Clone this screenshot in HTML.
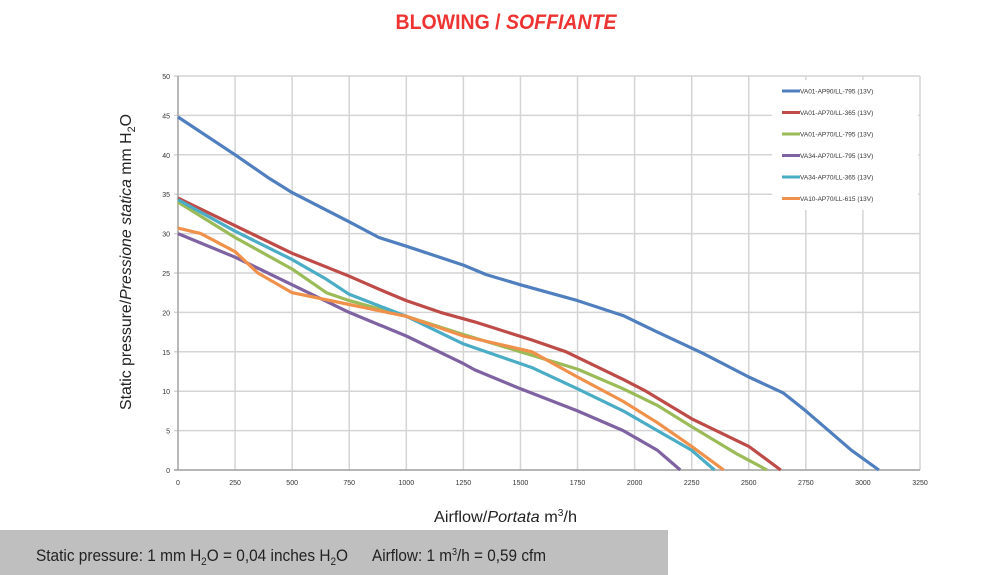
<!DOCTYPE html>
<html><head><meta charset="utf-8"><style>
html,body{margin:0;padding:0;background:#fff;width:1000px;height:575px;overflow:hidden}
svg{display:block}
text{font-family:"Liberation Sans",sans-serif}
</style></head><body>
<svg id="chart" width="1000" height="575" viewBox="0 0 1000 575" xmlns="http://www.w3.org/2000/svg">
<text x="506" y="29" text-anchor="middle" font-size="21" font-weight="bold" fill="#ee3333" textLength="221" lengthAdjust="spacingAndGlyphs">BLOWING / <tspan font-style="italic">SOFFIANTE</tspan></text>
<g id="grid"></g>
<g id="axes"></g>
<g id="series"></g>
<g id="legend"></g>
<text transform="translate(131,262) rotate(-90)" text-anchor="middle" font-size="16" fill="#222" textLength="296" lengthAdjust="spacingAndGlyphs">Static pressure/<tspan font-style="italic">Pressione statica</tspan> mm H<tspan font-size="11" dy="4">2</tspan><tspan dy="-4">O</tspan></text>
<text x="434" y="522" font-size="16" fill="#222" textLength="143" lengthAdjust="spacingAndGlyphs">Airflow/<tspan font-style="italic">Portata</tspan> m<tspan font-size="10" dy="-6">3</tspan><tspan dy="6">/h</tspan></text>
<rect x="0" y="530" width="668" height="45" fill="#bfbfbf"/>
<text x="36" y="561" font-size="17" fill="#222" textLength="312" lengthAdjust="spacingAndGlyphs">Static pressure: 1 mm H<tspan font-size="11" dy="4">2</tspan><tspan dy="-4">O = 0,04 inches H</tspan><tspan font-size="11" dy="4">2</tspan><tspan dy="-4">O</tspan></text>
<text x="372" y="561" font-size="17" fill="#222" textLength="174" lengthAdjust="spacingAndGlyphs">Airflow: 1 m<tspan font-size="10" dy="-6">3</tspan><tspan dy="6">/h = 0,59 cfm</tspan></text>
</svg>
<script>
const xTicks=[0,250,500,750,1000,1250,1500,1750,2000,2250,2500,2750,3000,3250];
const yTicks=[0,5,10,15,20,25,30,35,40,45,50];
const seriesNames=["VA01-AP90/LL-795 (13V)","VA01-AP70/LL-365 (13V)","VA01-AP70/LL-795 (13V)","VA34-AP70/LL-795 (13V)","VA34-AP70/LL-365 (13V)","VA10-AP70/LL-615 (13V)"];
const seriesColors=["#4f7fbf","#be4b48","#9bbb59","#7f62a2","#4aacc5","#f0914b"];
const s1x=[0,250,400,500,750,880,1000,1250,1350,1500,1750,1950,2100,2300,2500,2650,2750,2950,3070];
const s1y=[44.8,40,37,35.2,31.5,29.5,28.4,26,24.8,23.5,21.5,19.6,17.5,14.8,11.8,9.8,7.5,2.5,0];
const s2x=[0,250,500,750,900,1000,1150,1300,1550,1700,1950,2050,2250,2500,2640];
const s2y=[34.5,31,27.5,24.6,22.7,21.5,20,18.8,16.5,15,11.5,10,6.5,3,0];
const s3x=[0,250,500,650,750,1000,1250,1500,1750,1950,2100,2250,2450,2580];
const s3y=[34,29.5,25.5,22.5,21.5,19.5,17.2,15,12.8,10.3,8.2,5.5,2,0];
const s4x=[0,250,500,750,1000,1250,1300,1500,1750,1950,2100,2200];
const s4y=[30,27,23.5,20,17,13.5,12.7,10.3,7.5,5,2.5,0];
const s5x=[0,250,500,650,750,1000,1250,1550,1750,1950,2100,2250,2350];
const s5y=[34.3,30.3,26.7,24.2,22.3,19.5,16,13,10.3,7.5,5,2.5,0];
const s6x=[0,100,250,350,500,750,1000,1250,1550,1750,1950,2100,2250,2390];
const s6y=[30.7,30,27.7,25,22.5,21,19.5,17,15,11.8,8.7,6,3,0];
const allX=[s1x,s2x,s3x,s4x,s5x,s6x], allY=[s1y,s2y,s3y,s4y,s5y,s6y];
const X0=178,X1=920,Y0=470,Y1=76;
const sx=v=>X0+(v-0)/(3250)*(X1-X0);
const sy=v=>Y0-(v/50)*(Y0-Y1);
const NS="http://www.w3.org/2000/svg";
function mk(tag,attrs,parent){const e=document.createElementNS(NS,tag);for(const k in attrs)e.setAttribute(k,attrs[k]);parent.appendChild(e);return e;}
const grid=document.getElementById('grid'),axes=document.getElementById('axes'),ser=document.getElementById('series'),leg=document.getElementById('legend');
xTicks.forEach(t=>{const l=mk('line',{x1:sx(t),x2:sx(t),y1:Y1,y2:Y0,stroke:'#d4d4d4','stroke-width':1.5},grid);


const tx=mk('text',{x:sx(t),y:Y0+15,'text-anchor':'middle','font-size':7,fill:'#333'},axes);tx.textContent=t;

});
yTicks.forEach(t=>{const l=mk('line',{x1:X0-4,x2:X1,y1:sy(t),y2:sy(t),stroke:'#d4d4d4','stroke-width':1.5},grid);


const tx=mk('text',{x:X0-8,y:sy(t)+3,'text-anchor':'end','font-size':7,fill:'#333'},axes);tx.textContent=t;

});
const ya=mk('line',{x1:X0,x2:X0,y1:Y1,y2:Y0,stroke:'#999','stroke-width':1.2},axes);


const xa=mk('line',{x1:X0-4,x2:X1,y1:Y0,y2:Y0,stroke:'#999','stroke-width':1.2},axes);


allX.forEach((xs,i)=>{const pts=xs.map((x,j)=>sx(x).toFixed(1)+','+sy(allY[i][j]).toFixed(1)).join(' ');
const p=mk('polyline',{points:pts,fill:'none',stroke:seriesColors[i],'stroke-width':3.2,'stroke-linejoin':'round'},ser);

});
const bg=mk('rect',{x:772,y:80,width:146,height:130,fill:'#fff'},leg);


seriesNames.forEach((n,i)=>{const y=91+i*21.5;
const g=mk('g',{},leg);


mk('line',{x1:782,x2:800,y1:y,y2:y,stroke:seriesColors[i],'stroke-width':3},g);
const t=mk('text',{x:800,y:y+2.5,'font-size':6.5,fill:'#333'},g);t.textContent=n;});
</script>
</body></html>
